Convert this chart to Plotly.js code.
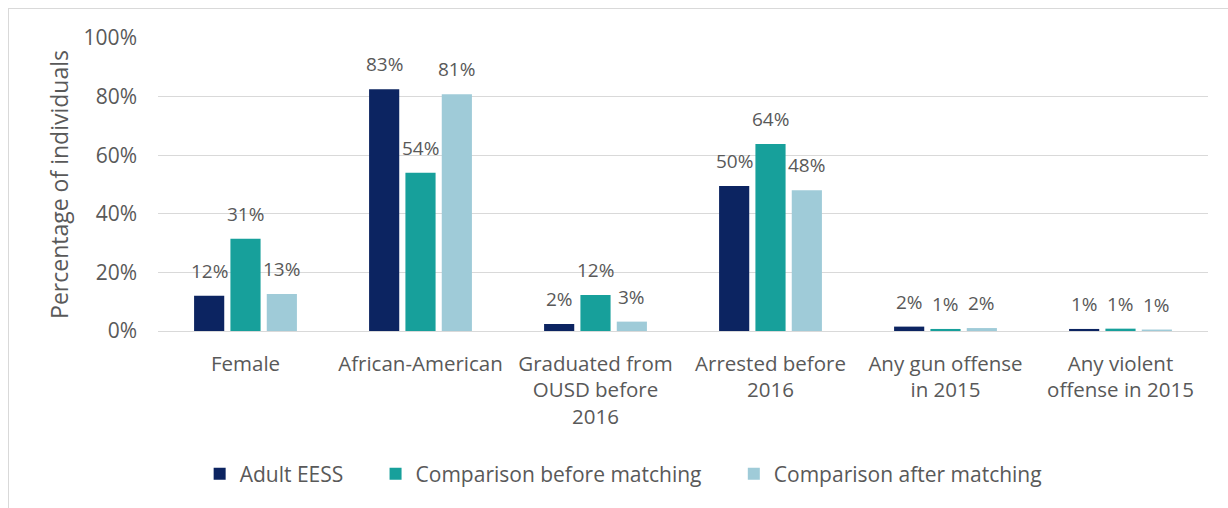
<!DOCTYPE html>
<html>
<head>
<meta charset="utf-8">
<script src="https://cdn.plot.ly/plotly-3.0.1.min.js"></script>
<style>
  html, body { margin: 0; padding: 0; background: #fff; }
  #wrap { position: relative; width: 1228px; height: 508px; }
  #chart { position: absolute; left: 0; top: 0; width: 1228px; height: 508px; }
  #frame { position: absolute; left: 8px; top: 8px; right: 0; bottom: 0;
           border-top: 1px solid #d9d9d9; border-left: 1px solid #d9d9d9; pointer-events: none; }
</style>
</head>
<body>
<div id="wrap"><div id="chart"></div><div id="frame"></div></div>
<script>
const categories = [
  "Female",
  "African-American",
  "Graduated from<br>OUSD before<br>2016",
  "Arrested before<br>2016",
  "Any gun offense<br>in 2015",
  "Any violent<br>offense in 2015"
];
const seriesNames = ["Adult EESS", "Comparison before matching", "Comparison after matching"];
const adultEESS        = [12, 82.5, 2.4, 49.5, 1.5, 0.7];
const beforeMatching   = [31.5, 54, 12.3, 63.8, 0.7, 0.8];
const afterMatching    = [12.6, 80.8, 3.2, 48, 1.0, 0.5];
const adultLabels      = ["12%", "83%", "2%", "50%", "2%", "1%"];
const beforeLabels     = ["31%", "54%", "12%", "64%", "1%", "1%"];
const afterLabels      = ["13%", "81%", "3%", "48%", "2%", "1%"];
const yTickVals  = [0, 20, 40, 60, 80, 100];
const yTickText  = ["0%", "20%", "40%", "60%", "80%", "100%"];

const colors = ["#0c2461", "#17a09b", "#9fcbd8"];
const textColor = "#595959";
const fontFamily = "Open Sans, sans-serif";
const bargap = 0.377;
const legendPad = "\u00a0\u00a0\u00a0\u00a0\u00a0";

const values = [adultEESS, beforeMatching, afterMatching];
const labels = [adultLabels, beforeLabels, afterLabels];

const traces = values.map((v, i) => ({
  type: "bar",
  name: seriesNames[i] + (i < values.length - 1 ? legendPad : ""),
  x: categories,
  y: v,
  marker: { color: colors[i] },
  hoverinfo: "none"
}));

const annotations = [];
values.forEach((v, i) => {
  const off = (i - 1) * (1 - bargap) / 3;
  v.forEach((val, j) => {
    annotations.push({
      x: j + off, y: val, xref: "x", yref: "y",
      text: labels[i][j], showarrow: false,
      yanchor: "bottom", xanchor: "center", yshift: 10,
      font: { family: fontFamily, size: 19, color: textColor }
    });
  });
});

const layout = {
  width: 1228, height: 508,
  margin: { l: 158, r: 20, t: 38, b: 177 },
  paper_bgcolor: "rgba(0,0,0,0)",
  plot_bgcolor: "#fff",
  barmode: "group",
  bargap: bargap,
  bargroupgap: 0.17,
  showlegend: true,
  font: { family: fontFamily, size: 20, color: textColor },
  xaxis: {
    type: "category",
    tickfont: { family: fontFamily, size: 20.5, color: textColor },
    ticklabelstandoff: 18,
    showgrid: false, zeroline: false, showline: false, ticks: "",
    automargin: false
  },
  yaxis: {
    range: [0, 100],
    tickvals: yTickVals, ticktext: yTickText,
    tickfont: { family: fontFamily, size: 21, color: textColor },
    ticklabelstandoff: 20,
    showgrid: true, gridcolor: "#d9d9d9", gridwidth: 1,
    zeroline: true, zerolinecolor: "#d9d9d9", zerolinewidth: 1,
    showline: false, ticks: "",
    automargin: false,
    title: { text: "Percentage of individuals", font: { family: fontFamily, size: 23, color: textColor }, standoff: 8 }
  },
  legend: {
    orientation: "h",
    x: 0.443, xanchor: "center",
    y: -0.488, yanchor: "middle",
    font: { family: fontFamily, size: 21, color: textColor },
    itemwidth: 30,
    traceorder: "normal"
  },
  annotations: annotations
};

Plotly.newPlot("chart", traces, layout, { displayModeBar: false, staticPlot: true });
</script>
</body>
</html>
